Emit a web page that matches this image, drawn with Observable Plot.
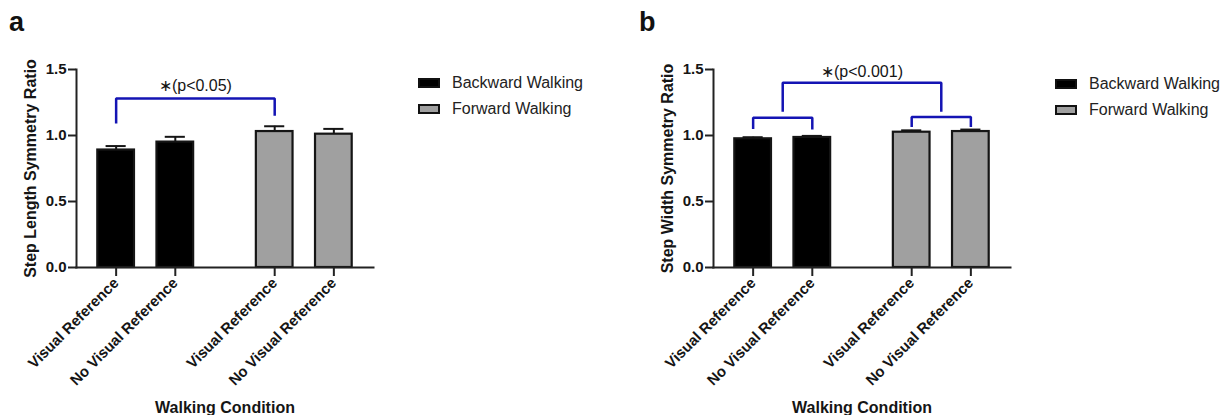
<!DOCTYPE html>
<html>
<head>
<meta charset="utf-8">
<script src="https://cdn.jsdelivr.net/npm/d3@7"></script>
<script src="https://cdn.jsdelivr.net/npm/@observablehq/plot@0.6"></script>
<style>
  html, body { margin: 0; padding: 0; background: #fff; }
  body { width: 1224px; height: 415px; overflow: hidden; position: relative;
         font-family: "Liberation Sans", Arial, Helvetica, sans-serif; }
  .panel { position: absolute; top: 0; }
  .plabel { position: absolute; font-weight: bold; font-size: 27px; color: #111; line-height: 1; }
  .legend { position: absolute; font-size: 16px; color: #222; }
  .legend .row { position: relative; height: 26px; display: flex; align-items: center; }
  .legend .sw { width: 18px; height: 6px; border: 2px solid #111; margin-right: 12px; }
</style>
</head>
<body>
<script>
// ---------------- data ----------------
const conditions = ["Visual Reference", "No Visual Reference"];
const groups = ["Backward Walking", "Forward Walking"];
const groupFills = ["#000000", "#a0a0a0"];

const yTicks = [0, 0.5, 1.0, 1.5];

// Panel a: Step Length Symmetry Ratio (mean, SEM) order: BW-VR, BW-NVR, FW-VR, FW-NVR
const lengthMeans = [0.89, 0.95, 1.03, 1.01];
const lengthSem   = [0.03, 0.04, 0.04, 0.04];

// Panel b: Step Width Symmetry Ratio
const widthMeans = [0.975, 0.985, 1.025, 1.03];
const widthSem   = [0.012, 0.012, 0.014, 0.015];

// significance brackets (bar indices, heights in y units)
const lengthBrackets = [
  {from: [0], to: [2], top: 1.28, fromEnd: 1.09, toEnd: 1.15}
];
const widthBrackets = [
  {from: [0], to: [1], top: 1.135, fromEnd: 1.05, toEnd: 1.045},
  {from: [2], to: [3], top: 1.14, fromEnd: 1.065, toEnd: 1.065},
  {from: [0, 1], to: [2, 3], top: 1.40, fromEnd: 1.18, toEnd: 1.18}
];
const lengthSig = [{text: "\u2217(p<0.05)", bracket: 0, y: 1.375}];
const widthSig  = [{text: "\u2217(p<0.001)", bracket: 2, y: 1.485}];

// ---------------- layout constants ----------------
const groupGap = 0.68;   // extra gap between groups (in bar steps)
const padUnits = 0.67;   // outer padding (in bar steps)
const barHalf = 0.31;
const capHalf = 0.17;
const blue = "#1414b4";
const ink = "#151515";

function buildRows(means, sems) {
  return groups.flatMap((g, gi) => conditions.map((c, ci) => {
    const i = gi * conditions.length + ci;
    return {group: g, gi, condition: c, pos: gi * (conditions.length + groupGap) + ci, mean: means[i], sem: sems[i]};
  }));
}

function makePanel({means, sems, brackets, sig, yLabel}) {
  const rows = buildRows(means, sems);
  const positions = rows.map(d => d.pos);
  const labelByPos = new Map(rows.map(d => [d.pos, d.condition]));
  const xAt = idx => d3.mean(idx, i => rows[i].pos);
  const bracketPts = brackets.flatMap((b, k) => {
    const x1 = xAt(b.from), x2 = xAt(b.to);
    return [
      {id: k, x: x1, y: b.fromEnd},
      {id: k, x: x1, y: b.top},
      {id: k, x: x2, y: b.top},
      {id: k, x: x2, y: b.toEnd}
    ];
  });
  return Plot.plot({
    width: 380,
    height: 415,
    marginLeft: 76,
    marginRight: 7,
    marginTop: 69,
    marginBottom: 148,
    style: {fontFamily: '"Liberation Sans", Arial, sans-serif', fontSize: "15px", fontWeight: "bold", color: ink, background: "transparent", overflow: "visible"},
    x: {type: "linear", domain: [d3.min(positions) - padUnits, d3.max(positions) + padUnits], axis: null},
    y: {domain: [0, 1.5], axis: null},
    marks: [
      Plot.rectY(rows, {x1: d => d.pos - barHalf, x2: d => d.pos + barHalf, y1: 0, y2: "mean",
        fill: d => groupFills[d.gi], stroke: ink, strokeWidth: 2.2}),
      Plot.ruleX(rows, {x: "pos", y1: "mean", y2: d => d.mean + d.sem, stroke: ink, strokeWidth: 2}),
      Plot.ruleY(rows, {y: d => d.mean + d.sem, x1: d => d.pos - capHalf, x2: d => d.pos + capHalf, stroke: ink, strokeWidth: 2}),
      Plot.frame({anchor: "left", stroke: "#222", strokeWidth: 2}),
      Plot.frame({anchor: "bottom", stroke: "#222", strokeWidth: 2}),
      Plot.axisY({ticks: yTicks, tickFormat: d3.format(".1f"), tickSize: 8, tickPadding: 2, strokeWidth: 2, stroke: "#222", label: null, fontSize: 15}),
      Plot.axisX({ticks: positions, tickFormat: p => labelByPos.get(p), tickRotate: -45, tickSize: 9, tickPadding: 4, strokeWidth: 2, stroke: "#222", label: null, fontSize: 15}),
      Plot.text([yLabel], {frameAnchor: "left", textAnchor: "middle", lineAnchor: "middle", rotate: -90, dx: -46, fontSize: 16, fontWeight: "bold", fill: ink}),
      Plot.text(["Walking Condition"], {frameAnchor: "bottom", dy: 145.5, fontSize: 16, fontWeight: "bold", fill: ink}),
      Plot.line(bracketPts, {x: "x", y: "y", z: "id", stroke: blue, strokeWidth: 2.5, strokeLinejoin: "miter", strokeLinecap: "butt"}),
      Plot.text(sig, {x: d => (xAt(brackets[d.bracket].from) + xAt(brackets[d.bracket].to)) / 2, y: "y", text: "text", fontSize: 16, fontWeight: "normal", fill: ink})
    ]
  });
}

function makeLegend(left, top) {
  const lg = document.createElement("div");
  lg.className = "legend";
  lg.style.left = left + "px";
  lg.style.top = top + "px";
  groups.forEach((g, gi) => {
    const row = document.createElement("div");
    row.className = "row";
    const sw = document.createElement("span");
    sw.className = "sw";
    sw.style.background = groupFills[gi];
    row.appendChild(sw);
    row.appendChild(document.createTextNode(g));
    lg.appendChild(row);
  });
  return lg;
}

function addPanel(left, letter, letterLeft, opts, legendLeft, legendTop) {
  const div = document.createElement("div");
  div.className = "panel";
  div.style.left = left + "px";
  div.appendChild(makePanel(opts));
  document.body.appendChild(div);
  const lab = document.createElement("div");
  lab.className = "plabel";
  lab.textContent = letter;
  lab.style.left = letterLeft + "px";
  lab.style.top = "9px";
  document.body.appendChild(lab);
  document.body.appendChild(makeLegend(legendLeft, legendTop));
}

addPanel(0, "a", 9, {means: lengthMeans, sems: lengthSem, brackets: lengthBrackets, sig: lengthSig, yLabel: "Step Length Symmetry Ratio"}, 418, 70);
addPanel(637, "b", 639, {means: widthMeans, sems: widthSem, brackets: widthBrackets, sig: widthSig, yLabel: "Step Width Symmetry Ratio"}, 1055, 71);
</script>
</body>
</html>
